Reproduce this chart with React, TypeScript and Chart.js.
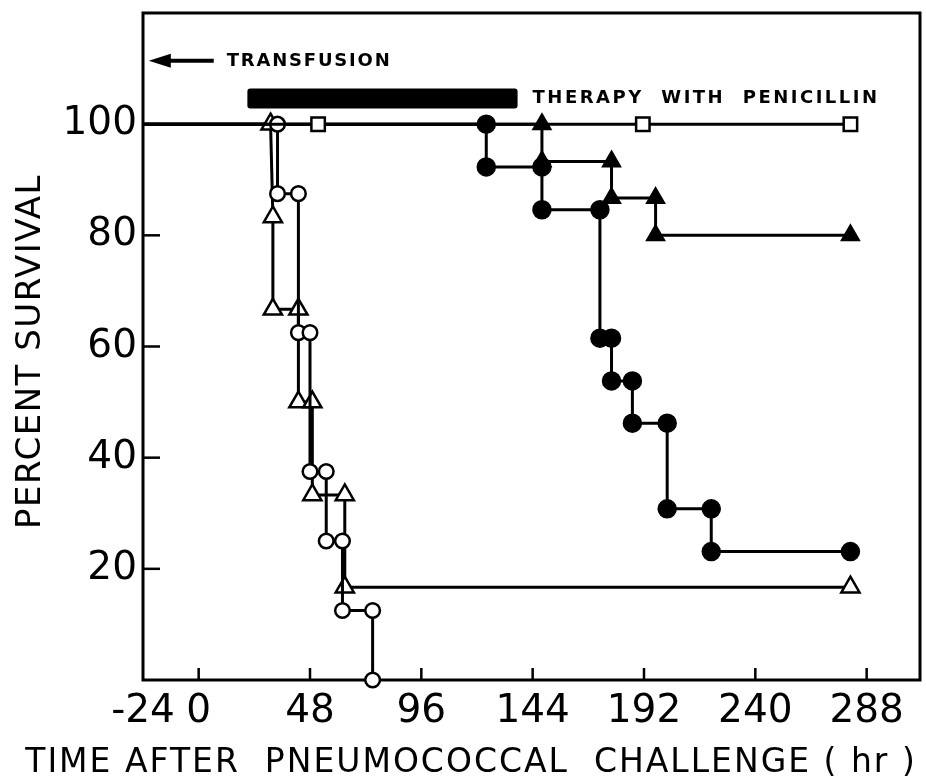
import React, { useEffect, useRef } from "react";
import { Chart, registerables } from "chart.js";

Chart.register(...registerables);

// ---- axis values ----
const xTickValues = [-24, 0, 48, 96, 144, 192, 240, 288];
const yTickValues = [20, 40, 60, 80, 100];
const xMin = -24;
const xMax = 311;
const yMin = 0;
const yMax = 120;

// ---- series (time in hr, percent survival) ----
const squareT = [-24, 51.5, 191.5, 281];
const squareV = [100, 100, 100, 100];

const openTriangleT = [-24, 31, 32, 32, 43, 43, 49, 49, 63, 63, 281];
const openTriangleV = [100, 100, 83.3, 66.7, 66.7, 50, 50, 33.3, 33.3, 16.7, 16.7];

const openCircleT = [-24, 34, 34, 43, 43, 48, 48, 55, 55, 62, 62, 75, 75];
const openCircleV = [100, 100, 87.5, 87.5, 62.5, 62.5, 37.5, 37.5, 25, 25, 12.5, 12.5, 0];

const filledCircleT = [-24, 124, 124, 148, 148, 173, 173, 178, 178, 187, 187, 202, 202, 221, 221, 281];
const filledCircleV = [100, 100, 92.3, 92.3, 84.6, 84.6, 61.5, 61.5, 53.8, 53.8, 46.2, 46.2, 30.8, 30.8, 23.1, 23.1];

const filledTriangleT = [-24, 148, 148, 178, 178, 197, 197, 281];
const filledTriangleV = [100, 100, 93.3, 93.3, 86.7, 86.7, 80, 80];

// ---- annotations ----
const transfusionLabel = "TRANSFUSION";
const transfusionArrowFrom = 6.5;
const transfusionArrowTo = -21.5;
const transfusionLevel = 111.4;
const therapyLabel = "THERAPY  WITH  PENICILLIN";
const therapyStart = 21;
const therapyEnd = 137.5;
const therapyBarTop = 106.4;
const therapyBarBottom = 102.8;
const xTitle = "TIME AFTER  PNEUMOCOCCAL  CHALLENGE ( hr )";
const yTitle = "PERCENT SURVIVAL";

const toPoints = (t: number[], v: number[]) => t.map((tt, i) => ({ x: tt, y: v[i] }));

const frameAndTicks = {
  id: "frameAndTicks",
  beforeDatasetsDraw(chart: any) {
    const { ctx, chartArea: a, scales } = chart;
    const x = scales.x;
    const y = scales.y;
    ctx.save();
    ctx.strokeStyle = "#000";
    ctx.lineWidth = 3;
    ctx.strokeRect(a.left, a.top, a.right - a.left, a.bottom - a.top);
    ctx.lineWidth = 2.5;
    yTickValues.forEach((v) => {
      const py = y.getPixelForValue(v);
      ctx.beginPath();
      ctx.moveTo(a.left, py);
      ctx.lineTo(a.left + 17, py);
      ctx.stroke();
    });
    xTickValues
      .filter((v) => v > xMin)
      .forEach((v) => {
        const px = x.getPixelForValue(v);
        ctx.beginPath();
        ctx.moveTo(px, a.bottom);
        ctx.lineTo(px, a.bottom - 12);
        ctx.stroke();
      });
    ctx.restore();
  },
  afterDraw(chart: any) {
    const { ctx, chartArea: a, scales } = chart;
    const x = scales.x;
    const y = scales.y;
    ctx.save();
    ctx.fillStyle = "#000";
    ctx.strokeStyle = "#000";

    // arrow for transfusion
    const ay = y.getPixelForValue(transfusionLevel);
    const ax0 = x.getPixelForValue(transfusionArrowFrom);
    const ax1 = x.getPixelForValue(transfusionArrowTo);
    ctx.lineWidth = 4;
    ctx.beginPath();
    ctx.moveTo(ax0, ay);
    ctx.lineTo(ax1 + 18, ay);
    ctx.stroke();
    ctx.beginPath();
    ctx.moveTo(ax1, ay);
    ctx.lineTo(ax1 + 22, ay - 7);
    ctx.lineTo(ax1 + 22, ay + 7);
    ctx.closePath();
    ctx.fill();

    ctx.font = 'bold 18px "DejaVu Sans"';
    (ctx as any).letterSpacing = "1.8px";
    ctx.textBaseline = "middle";
    ctx.textAlign = "left";
    ctx.fillText(transfusionLabel, ax0 + 13, ay + 1);

    // therapy bar
    const bx0 = x.getPixelForValue(therapyStart);
    const bx1 = x.getPixelForValue(therapyEnd);
    const by0 = y.getPixelForValue(therapyBarTop);
    const by1 = y.getPixelForValue(therapyBarBottom);
    ctx.beginPath();
    (ctx as any).roundRect
      ? (ctx as any).roundRect(bx0, by0, bx1 - bx0, by1 - by0, 3)
      : ctx.rect(bx0, by0, bx1 - bx0, by1 - by0);
    ctx.fill();
    (ctx as any).letterSpacing = "2.5px";
    ctx.fillText(therapyLabel, bx1 + 15, (by0 + by1) / 2);

    // y title
    ctx.save();
    ctx.translate(40, (a.top + a.bottom) / 2 + 5);
    ctx.rotate(-Math.PI / 2);
    ctx.font = '34px "DejaVu Sans"';
    (ctx as any).letterSpacing = "1.5px";
    ctx.textAlign = "center";
    ctx.textBaseline = "alphabetic";
    ctx.fillText(yTitle, 0, 0);
    ctx.restore();

    // x title
    ctx.font = '33px "DejaVu Sans"';
    (ctx as any).letterSpacing = "2px";
    ctx.textAlign = "center";
    ctx.textBaseline = "alphabetic";
    ctx.fillText(xTitle, 471, 772);
    ctx.restore();
  },
};

export default function App() {
  const ref = useRef<HTMLCanvasElement | null>(null);

  useEffect(() => {
    if (!ref.current) return;
    const openStyle = {
      borderColor: "#000",
      backgroundColor: "#fff",
      pointBorderColor: "#000",
      pointBackgroundColor: "#fff",
      pointBorderWidth: 2.5,
      borderWidth: 3,
      tension: 0,
      clip: false as any,
    };
    const filledStyle = {
      borderColor: "#000",
      backgroundColor: "#000",
      pointBorderColor: "#000",
      pointBackgroundColor: "#000",
      pointBorderWidth: 1.5,
      borderWidth: 3,
      tension: 0,
      clip: false as any,
    };
    const r = (size: number) => (c: any) => (c.dataIndex === 0 ? 0 : size);

    const chart = new Chart(ref.current, {
      type: "line",
      data: {
        datasets: [
          { ...openStyle, label: "open square", data: toPoints(squareT, squareV), pointStyle: "rect", pointRadius: r(9.5), order: 1 },
          { ...openStyle, label: "open triangle", data: toPoints(openTriangleT, openTriangleV), pointStyle: "triangle", pointRadius: r(10.5), order: 3 },
          { ...openStyle, label: "open circle", data: toPoints(openCircleT, openCircleV), pointStyle: "circle", pointRadius: r(7.3), order: 2 },
          { ...filledStyle, label: "filled triangle", data: toPoints(filledTriangleT, filledTriangleV), pointStyle: "triangle", pointRadius: r(10.5), order: 5 },
          { ...filledStyle, label: "filled circle", data: toPoints(filledCircleT, filledCircleV), pointStyle: "circle", pointRadius: r(9), order: 4 },
        ] as any,
      },
      options: {
        responsive: false,
        animation: false,
        layout: { autoPadding: false, padding: { top: 13, right: 6, left: 0, bottom: 0 } },
        plugins: { legend: { display: false }, tooltip: { enabled: false }, title: { display: false } },
        scales: {
          x: {
            type: "linear",
            min: xMin,
            max: xMax,
            grid: { display: false, drawTicks: false },
            border: { display: false },
            afterBuildTicks: (axis: any) => {
              axis.ticks = xTickValues.map((v) => ({ value: v }));
            },
            afterFit: (s: any) => {
              s.height = 102;
              s.paddingLeft = 0;
              s.paddingRight = 0;
            },
            ticks: {
              color: "#000",
              font: { family: "DejaVu Sans", size: 39 },
              padding: 8,
              maxRotation: 0,
              autoSkip: false,
              callback: (v: any) => String(v),
            },
          },
          y: {
            type: "linear",
            min: yMin,
            max: yMax,
            grid: { display: false, drawTicks: false },
            border: { display: false },
            afterBuildTicks: (axis: any) => {
              axis.ticks = yTickValues.map((v) => ({ value: v }));
            },
            afterFit: (s: any) => {
              s.width = 143;
              s.paddingTop = 0;
              s.paddingBottom = 0;
            },
            ticks: {
              color: "#000",
              font: { family: "DejaVu Sans", size: 39 },
              padding: 6,
              callback: (v: any) => String(v),
            },
          },
        },
      },
      plugins: [frameAndTicks],
    } as any);
    return () => chart.destroy();
  }, []);

  return (
    <div style={{ position: "absolute", left: 0, top: 0, width: 926, height: 782, background: "#fff" }}>
      <canvas ref={ref} width={926} height={782} />
    </div>
  );
}
